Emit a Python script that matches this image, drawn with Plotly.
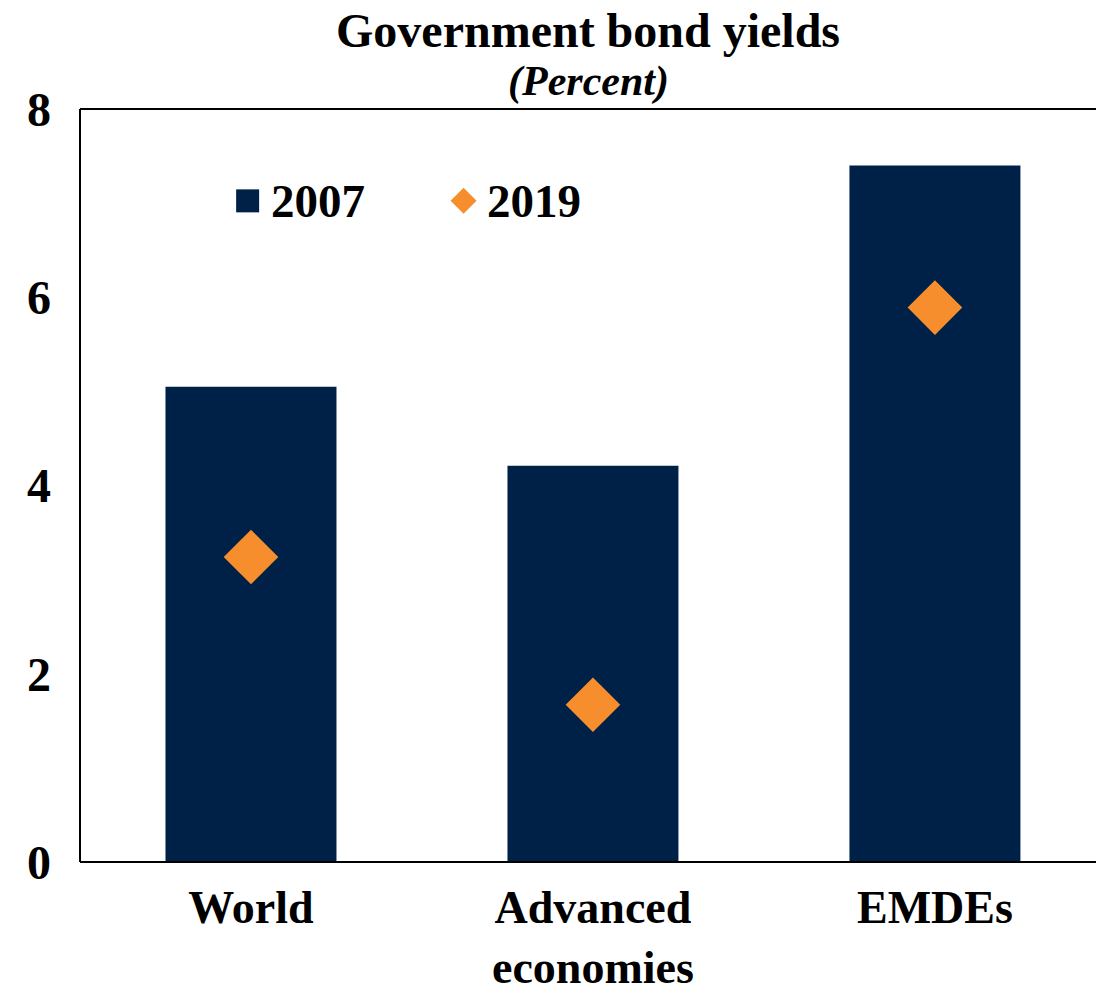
import plotly.graph_objects as go

# Government bond yields by country group (percent)
categories = ["World", "Advanced<br>economies", "EMDEs"]
yields_2007 = [5.05, 4.21, 7.40]
yields_2019 = [3.24, 1.67, 5.89]
y_ticks = [0, 2, 4, 6, 8]
series_names = ["2007", "2019"]

NAVY = "#002147"
ORANGE = "#F68E2E"
FONT = "Liberation Serif, Times New Roman, serif"

fig = go.Figure()

fig.add_trace(go.Bar(
    x=categories, y=yields_2007, name=series_names[0],
    marker=dict(color=NAVY, line=dict(width=0)),
    width=0.5, showlegend=False,
))
fig.add_trace(go.Scatter(
    x=categories, y=yields_2019, name=series_names[1], mode="markers",
    marker=dict(symbol="diamond", size=42, color=ORANGE, line=dict(width=0)),
    showlegend=False,
))

# Legend keys drawn as pixel-sized shapes anchored in paper coordinates
leg_y = 0.878
key_x = [0.165, 0.3775]
frame = dict(color="black", width=2)
shapes = [
    dict(type="rect", xref="paper", yref="paper", xsizemode="pixel", ysizemode="pixel",
         xanchor=key_x[0], yanchor=leg_y, x0=-11.5, x1=11.5, y0=-11.5, y1=11.5,
         fillcolor=NAVY, line=dict(width=0)),
    dict(type="path", xref="paper", yref="paper", xsizemode="pixel", ysizemode="pixel",
         xanchor=key_x[1], yanchor=leg_y,
         path="M -13 0 L 0 13 L 13 0 L 0 -13 Z",
         fillcolor=ORANGE, line=dict(width=0)),
    # frame: top, left and bottom edges of the plot area (open on the right)
    dict(type="line", xref="paper", yref="paper", x0=0, x1=1.01, y0=1, y1=1, line=frame),
    dict(type="line", xref="paper", yref="paper", x0=0, x1=0, y0=0, y1=1, line=frame),
    dict(type="line", xref="paper", yref="paper", x0=0, x1=1.01, y0=0, y1=0, line=frame),
]
legend_labels = [
    dict(text=f"<b>{name}</b>", xref="paper", yref="paper", x=kx, y=leg_y,
         xshift=21, xanchor="left", yanchor="middle", showarrow=False,
         font=dict(family=FONT, size=47, color="black"))
    for name, kx in zip(series_names, key_x)
]

fig.update_layout(
    width=1096, height=993,
    margin=dict(l=80, r=0, t=109, b=131),
    paper_bgcolor="white", plot_bgcolor="rgba(0,0,0,0)",
    font=dict(family=FONT, color="black", size=46),
    showlegend=False,
    shapes=shapes,
    xaxis=dict(
        range=[-0.5, 2.471], showgrid=False, zeroline=False, automargin=False,
        showline=False,
        ticks="", tickfont=dict(family=FONT, size=46, weight="bold"),
        ticklabelstandoff=14,
    ),
    yaxis=dict(
        range=[0, 8], tickvals=y_ticks, showgrid=False, zeroline=False, automargin=False,
        showline=False,
        ticks="", tickfont=dict(family=FONT, size=48, weight="bold"),
        ticklabelstandoff=28,
    ),
    annotations=[
        dict(text="<b>Government bond yields</b>", xref="paper", yref="paper",
             x=0.5, y=1, yshift=79, xanchor="center", yanchor="middle",
             showarrow=False, font=dict(family=FONT, size=48, color="black")),
        dict(text="<b><i>(Percent)</i></b>", xref="paper", yref="paper",
             x=0.5, y=1, yshift=28, xanchor="center", yanchor="middle",
             showarrow=False, font=dict(family=FONT, size=42, color="black")),
    ] + legend_labels,
)

fig.write_html("out.html")
